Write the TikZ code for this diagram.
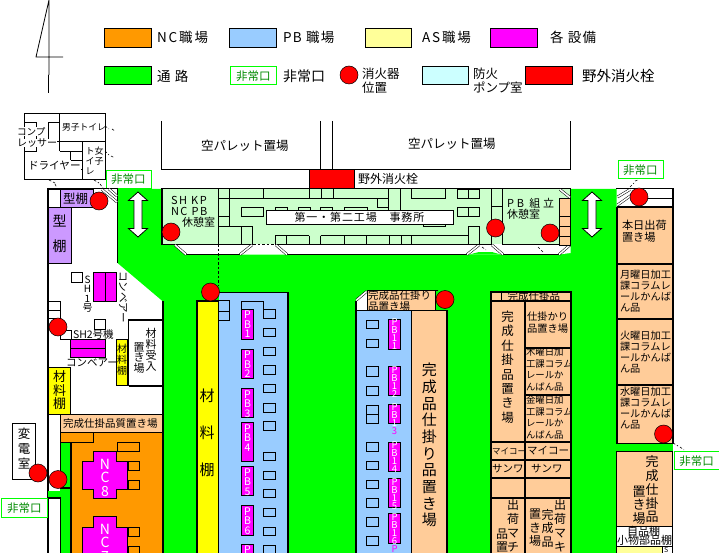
\documentclass[tikz,border=0pt]{standalone}
\usepackage{fontspec}
\setmainfont{Noto Sans CJK JP}
\definecolor{nco}{HTML}{FF9900}
\definecolor{pbb}{HTML}{99CCFF}
\definecolor{asy}{HTML}{FFFF99}
\definecolor{eqm}{HTML}{FF00FF}
\definecolor{grn}{HTML}{00FF00}
\definecolor{cyn}{HTML}{CCFFFF}
\definecolor{red0}{HTML}{FF0000}
\definecolor{pch}{HTML}{FFCC99}
\definecolor{lgr}{HTML}{CCFFCC}
\definecolor{pur}{HTML}{CC99FF}
\definecolor{yel}{HTML}{FFFF00}
\definecolor{egr}{HTML}{008A00}
\newcounter{tn}
\newcommand{\LS}[2]{{\addfontfeatures{LetterSpace=#1}#2}}
% \TX[opts]{x}{y}{size}{text}: west anchored text
\newcommand{\TX}[5][]{\stepcounter{tn}\node[txt,anchor=west,font=\fontsize{#4}{#4}\selectfont,#1] (t\arabic{tn}) at (#2,#3) {#5};}
% \VT[opts]{x}{ytop}{size}{lineheight}{text with \\}: vertical column
\newcommand{\VT}[6][]{\stepcounter{tn}\node[txt,anchor=north,align=center,font=\fontsize{#4}{#5}\selectfont,#1] (t\arabic{tn}) at (#2,#3) {#6};}
\newcommand{\FC}[2]{\stepcounter{tn}\node[ext] (t\arabic{tn}) at (#1,#2) {};}
\newcommand{\EX}[4]{\stepcounter{tn}\node[exitbox,minimum width=#3,minimum height=#4,anchor=north west,font=\fontsize{11.5}{12}\selectfont] (t\arabic{tn}) at (#1,#2) {非常口};}
\tikzset{
 txt/.style={inner sep=0pt,outer sep=0pt},
 ln/.style={draw=black,line width=.8pt},
 wl/.style={draw=black,line width=1.7pt},
 ext/.style={circle,draw=black,line width=.5pt,fill=red0,minimum size=18pt,inner sep=0pt},
 exitbox/.style={draw=grn,line width=.9pt,fill=white,text=egr,inner sep=0pt},
 door/.style={draw=black,line width=.5pt,double=white,double distance=1.6pt},
 dsh/.style={draw=black,line width=.6pt,dash pattern=on 2.5pt off 2pt},
 pbbox/.style={draw=black,line width=1pt,fill=eqm},
 wtext/.style={text=white},
 warrow/.style={draw=black,line width=.8pt,fill=white}
}
\begin{document}
\begin{tikzpicture}[x=1pt,y=-1pt]
\useasboundingbox (0,0) rectangle (719,553);
\clip (0,0) rectangle (719,553);
\fill[white] (0,0) rectangle (719,553);
% north sign
\draw[ln] (49,0)--(49,75) (48.5,75)--(48.5,93) (49,0)--(36,57) (35.5,57)--(63,57);
% legend
\draw[ln,fill=nco] (104.5,28.5) rectangle (151.5,47.5);
\TX{157}{37}{13.5}{\LS{14}{NC職場}}
\draw[ln,fill=pbb] (229.5,28.5) rectangle (276.5,47.5);
\TX{283}{37}{13.5}{\LS{10}{PB 職場}}
\draw[ln,fill=asy] (365.5,28.5) rectangle (411.5,47.5);
\TX{422}{37}{13.5}{\LS{14}{AS職場}}
\draw[ln,fill=eqm] (490.5,28.5) rectangle (537.5,47.5);
\TX{550}{37}{13.5}{\LS{10}{各 設備}}
\draw[ln,fill=grn] (104.5,66.5) rectangle (151.5,84.5);
\TX{157}{76}{13.5}{\LS{10}{通 路}}
\EX{230}{66.5}{46pt}{18pt}
\TX{283}{76}{14}{非常口}
\FC{349}{75}
\VT[align=left,anchor=north west]{362}{68}{12.5}{14}{消火器\\位置}
\draw[ln,fill=cyn] (422.5,66.5) rectangle (468.5,84.5);
\VT[align=left,anchor=north west]{473}{68}{12.5}{14}{防火\\ポンプ室}
\draw[ln,fill=red0] (525.5,66.5) rectangle (572.5,84.5);
\TX{582}{76}{14.5}{野外消火栓}
% toilet block
\draw[ln] (24.5,113.5) rectangle (105.5,179.5);
\draw[ln] (59.5,113.5)--(59.5,151.5) (59.5,141.5)--(105.5,141.5)
 (82.5,141.5)--(82.5,179.5)
 (48.5,122.5) rectangle (59.5,141.5) (24.5,151.5)--(36.5,151.5)--(36.5,122)--(24.5,122)
 (59.5,151.5)--(82.5,151.5) (70.5,151.5)--(70.5,160.5) (70.5,160.5)--(82.5,160.5)
 (53,169.5)--(82.5,169.5);
\TX[fill=white]{17}{131.5}{9.6}{コンプ}
\TX[fill=white]{17}{143}{10}{レッサー}
\TX[fill=white]{28}{166}{10.6}{ドライヤー}
\TX{62}{127.5}{8.8}{男子トイレ}
\VT[align=left,anchor=north west]{85.5}{146.5}{9}{10}{ト女\\イ子\\レ}
\draw[dsh] (105,126)--(109,129) (112,129)--(115,131) (105,151)--(109,155) (111,156)--(115,158)
 (49,180)--(55,183) (55,184)--(57,188) (94,180)--(99,183) (100,184)--(103,188);
% top pallet yards
\draw[ln] (161.5,121)--(161.5,169.5)--(570.5,169.5)--(570.5,121) (320.5,121)--(320.5,169.5) (332.5,121)--(332.5,169.5);
\TX{201}{146}{12.5}{空パレット置場}
\TX{408}{144}{12.5}{空パレット置場}
\draw[ln,fill=red0] (309.5,169.5) rectangle (354,188);
\TX{358}{178.5}{12}{野外消火栓}
\EX{105.5}{170}{45pt}{18pt}
\EX{617.5}{160.5}{45pt}{18pt}
% green aisle
\fill[grn] (118,189)--(616.7,189)--(616.7,553)--(163,553)--(163,301.5)--(117.5,263)--cycle;
\fill[grn] (616,443)rectangle(673,452);
% left wall and top wall
\draw[wl] (47,188.5)--(118,188.5) (161,188.5)--(570.5,188.5) (616,188.5)--(674,188.5);
\draw[wl] (48,188)--(48,553);
\draw[wl] (117.5,188)--(117.5,263) ;
\draw[wl] (163.2,301)--(163.2,553);
% top left rooms
\draw[ln] (48.5,189.5) rectangle (60.5,207);
\draw[ln,fill=pur] (60.5,189.5) rectangle (93,207);
\TX{63}{198.5}{12.5}{型棚}
\draw[ln,fill=pur] (48.5,207) rectangle (71.5,263.5);
\VT{59.5}{215}{14}{25}{型\\棚}
\draw[door] (102,189.5)--(117,202);
\draw[door] (109,189)--(117,196);
% SH1
\draw[ln,fill=eqm] (93.5,272.7) rectangle (116.5,301.7) (105,272.7)--(105,301.7);
\draw[ln] (71.5,272.5) rectangle (82.5,282.5);
\VT{87.5}{276}{10}{9.4}{S\\H\\1\\号}
\stepcounter{tn}\node[txt,rotate=-90,font=\fontsize{10.5}{11}\selectfont] (t\arabic{tn}) at (123,297) {コンベアー};
\draw[ln] (48.5,301.5) rectangle (60.5,310.5) (48.5,310.5) rectangle (60.5,318) (60,330) rectangle (71,339.5);
\draw[ln] (94.5,319.5) rectangle (105.5,329.5);
\TX{73}{334.5}{10.5}{SH2号機}
\draw[ln,fill=eqm] (70.5,339.5) rectangle (105.5,357.5) (70.5,348.5)--(105.5,348.5);
\TX{66}{363}{10.5}{コンベアー}
\draw[ln,fill=yel] (116.5,339.5) rectangle (127.5,385);
\VT{122}{344}{10}{11}{材\\料\\棚}
\draw[wl] (128.5,386)--(128.5,320)--(163,320) (128.5,386)--(163,386);
\VT{151}{328}{11}{11}{材\\料\\受\\入}
\VT{139}{342.5}{11}{10.7}{置\\き\\場}
\draw[ln,fill=yel] (48.5,367) rectangle (70.5,414.5);
\VT{59.5}{371}{13}{13.5}{材\\料\\棚}
% NC area
\fill[nco] (71,432) rectangle (163,553);
\fill[pch] (60,415) rectangle (163,432);
\fill[nco] (60,432) rectangle (93,442.5);
\fill[grn] (60,442.5) rectangle (71,553);
\fill[grn] (48,490.5) rectangle (60,498);
\draw[ln] (48,414.5)--(163,414.5) (60,414.5)--(60,488) (60,432)--(163,432) (60,442.5)--(93,442.5) (93,432)--(93,442.5);
\draw[wl] (71,442.5)--(71,553) (60,488)--(71,488) (48,498)--(60.5,498)--(60.5,553) ;
\draw[wl] (163.2,414)--(163.2,553);
\TX{63}{424}{10.5}{完成仕掛品質置き場}
\draw[ln] (117.5,442.5) rectangle (139.5,451.5) (128,461) rectangle (139.5,470.5) (128,480) rectangle (139.5,489.5)
 (128,527) rectangle (139.5,536) (128,546) rectangle (139.5,556);
\draw[ln,fill=eqm] (93.7,451.7)--(116.3,451.7)--(116.3,461.3)--(127.7,461.3)--(127.7,489.3)--(116.3,489.3)--(116.3,498.3)--(93.7,498.3)--(93.7,489.3)--(82.3,489.3)--(82.3,461.3)--(93.7,461.3)--cycle;
\draw[ln,fill=eqm] (93.7,516)--(116.3,516)--(116.3,527.3)--(127.7,527.3)--(127.7,560)--(82.3,560)--(82.3,527.3)--(93.7,527.3)--cycle;
\VT[text=white]{105}{459}{14}{13.5}{N\\C\\8}
\VT[text=white]{105}{524}{14}{13.5}{N\\C\\7}
\draw[ln,fill=white] (12.5,423.5) rectangle (35.5,479.5);
\VT{24}{428}{12.5}{15}{変\\電\\室}
\EX{0.7}{498}{46.3pt}{18.5pt}
% office
\fill[lgr] (162,189.5) rectangle (570.5,244.5);
\fill[white] (174,244)--(186,254.5)--(503,254.5)--(559,254.5)--(570.5,253)--(570.5,244)--cycle;
\fill[grn] (469,254.6)--(479,252)--(492,252)--(501,254.6)--cycle;
\draw[wl] (162,189)--(162,244.5)--(174,244.5);
\draw[ln] (174,244.5)--(253,244.5) (276,244.5)--(492,244.5) (503,244.5)--(570.5,244.5);
\draw[dsh] (253,244.5)--(276,244.5);
\draw[wl] (186,254.5)--(240,254.5) (287,254.5)--(467,254.5) (503,254.5)--(559,254.5);
\draw[wl] (570.5,188.5)--(570.5,245);
\draw[door] (175,245)--(186,254.5);
\draw[door] (240,254.5)--(252,245);
\draw[door] (276,245)--(287,254.5);
\draw[door] (467,254.5)--(479,245);
\draw[door] (492,245)--(503,254.5);
\draw[door] (559,254.5)--(570,245);
\draw[dsh] (218.3,244)--(218.3,285);
\draw[dsh] (482,247)--(486,250) (538,247)--(543,252);
\draw[ln] (218.3,189)--(218.3,244) (229,189)--(229,226) (218.3,198.5)--(387,198.5) (218.3,216)--(229,216) (218.3,226)--(252.7,226)
 (241.7,226)--(241.7,244) (252.7,226)--(252.7,244)
 (241.7,207.3) rectangle (263.3,216.3)
 (263,189)--(263,198.5) (309,189)--(309,198.5) (321,189)--(321,198.5) (333,189)--(333,198.5)
 (275,207.3) rectangle (287,214) (298.3,207.3) rectangle (310,214) (320.7,207.3) rectangle (332.7,214) (344,207.3) rectangle (367,214)
 (377,198.5) rectangle (388.3,207.3) (388.3,189)--(388.3,212) (400,189)--(400,212)
 (411.7,189)--(411.7,198.7)--(445.7,198.7)--(445.7,189)
 (457.3,189) rectangle (479.3,198.7) (468.3,189)--(468.3,198.7)
 (457.3,207.3) rectangle (479.3,216) (468.3,207.3)--(468.3,216)
 (468.3,226.7) rectangle (479.3,244.5)
 (423,220) rectangle (445,226)
 (275,235.7)--(309.3,235.7) (320.7,235.7)--(468.3,235.7)
 (275,235.7)--(275,244.5) (286.7,235.7)--(286.7,244.5) (309.3,235.7)--(309.3,244.5) (320.7,235.7)--(320.7,244.5)
 (344.7,235.7)--(344.7,244.5) (366.7,235.7)--(366.7,244.5) (389.3,235.7)--(389.3,244.5) (401,235.7)--(401,244.5) (411.7,235.7)--(411.7,244.5)
 (491.7,189)--(491.7,244.5) (502.7,189)--(502.7,244.5) (491.7,206.7)--(502.7,206.7);
\stepcounter{tn}\node[draw=black,line width=.8pt,fill=white,anchor=north west,minimum width=187pt,minimum height=13pt,inner sep=0pt,font=\fontsize{11}{11}\selectfont] (t\arabic{tn}) at (265.5,210.5) {\LS{8}{第一・第二工場　事務所}};
\TX{171}{200}{11}{\LS{14}{SH KP}}
\TX{171}{211}{11}{\LS{14}{NC PB}}
\TX{182}{222}{11}{休憩室}
\TX{507}{203}{11}{\LS{26}{PB 組立}}
\TX{507}{214}{11}{休憩室}
\draw[ln,fill=pch] (559.3,198) rectangle (570.5,245);
\draw[ln] (559.3,216.7)--(570.5,216.7) (559.3,226.7)--(570.5,226.7) (559.3,236)--(570.5,236);
\draw[door] (560,189.5)--(570,197.5);
% double arrows
\draw[warrow] (138,192)--(147.5,200.5)--(142,200.5)--(142,228.5)--(147.5,228.5)--(138,237)--(128.5,228.5)--(134,228.5)--(134,200.5)--(128.5,200.5)--cycle;
\draw[warrow] (592,192)--(601.5,200.5)--(596,200.5)--(596,228.5)--(601.5,228.5)--(592,237)--(582.5,228.5)--(588,228.5)--(588,200.5)--(582.5,200.5)--cycle;
% PB left
\fill[yel] (197,301) rectangle (218.5,553);
\fill[pbb] (218.5,292.5) rectangle (288.3,553);
\draw[wl] (197,553)--(197,301)--(218.5,301) (218.5,292.5)--(288.3,292.5)--(288.3,553);
\draw[ln] (218.5,301)--(218.5,553);
\VT{207}{389}{15}{37}{材\\料\\棚}
\draw[ln] (218.5,300.5) rectangle (229.5,311) (218.5,311) rectangle (229.5,320.5) (241.7,309.3)--(241.7,301.5)--(263.3,301.5)--(263.3,309.3);
\foreach \a/\b in {88/115,145/170,201/227,256/283,313/338,370/396,424/452,517/542,574/599,628/653,685/710,742/767,797/825}{
 \draw[ln] (263.3,{280+\a/3}) rectangle (275.7,{280+\b/3});
}
\foreach \a/\b/\n in {309.3/339.3/1,349.3/378.7/2,388.3/417.7/3,422.3/461.7/4,466.3/495.7/5,505.3/535.7/6,544/560/7}{
 \draw[pbbox] (241.7,\a) rectangle (253.3,\b);
 \VT[text=white]{247.5}{\a+2}{10.5}{9.5}{P\\B\\\n}
}
% PB middle
\fill[pbb] (356,310) rectangle (411.7,553);
\fill[pch] (411.7,310) rectangle (446.7,553);
\fill[white] (356,300)--(367,291)--(367,310)--(356,310)--cycle;
\fill[pch] (367,291) rectangle (435.3,310);
\draw[wl] (356,301)--(356,553) (367,290.5)--(438,290.5) (446.7,310)--(446.7,553);
\draw[ln] (356,310)--(446.7,310) (411.7,310)--(411.7,553) (367,290.5)--(367,310) (435.3,290.5)--(435.3,310);
\draw[door] (356.5,300)--(366.5,291.5);
\VT[align=left,anchor=north west]{368}{291}{10.5}{9.5}{完成品仕掛り\\品置き場}
\VT{429.3}{363}{15}{16.7}{完\\成\\品\\仕\\掛\\り\\品\\置\\き\\場}
\foreach \a/\b in {105/131,162/188,245/275,303/330,361/388,388/415,472/499,528/554,585/611,640/667,697/723,753/780}{
 \draw[ln] (366,{285+\a/3}) rectangle (378.7,{285+\b/3});
}
\foreach \a/\b/\n/\c in {102/194/1/white,244/332/2/white,357/415/3/eqm,471/560/4/white,580/668/5/white,685/775/6/white}{
 \draw[pbbox] (388.3,{285+\a/3}) rectangle (400.7,{285+\b/3});
 \VT[text=white]{394.5}{285+\a/3}{9.5}{8}{P\\B\\1\\\textcolor{\c}{\n}}
}
\TX[anchor=center,text=eqm]{394.5}{549}{9.5}{P}
% right middle block
\fill[pch] (491,291.7) rectangle (571,553);
\draw[wl] (491,553)--(491,291.7)--(571,291.7)--(571,553) (491,301)--(571,301) (525,301)--(525,553)
 (525,347.7)--(571,347.7) (525,395)--(571,395) (491,441.7)--(571,441.7) (491,460)--(571,460) (491,478.3)--(571,478.3) (491,498.3)--(571,498.3);
\draw[ln] (501.7,292)--(501.7,301);
\TX{507.7}{296.7}{10.5}{完成仕掛品}
\VT{507.7}{311}{12.5}{14.4}{完\\成\\仕\\掛\\品\\置\\き\\場}
\VT[align=left,anchor=north west]{527}{312}{10.3}{12}{仕掛かり\\品置き場}
\VT[align=left,anchor=north west]{526}{348}{9.4}{11.4}{木曜日加\\工課コラム\\レールか\\んばん品}
\VT[align=left,anchor=north west]{526}{396}{9.4}{11.4}{金曜日加\\工課コラム\\レールか\\んばん品}
\TX{492}{451}{8.5}{マイコー}
\TX{527}{451}{10.5}{マイコー}
\TX{492}{469}{10.5}{サンワ}
\TX{531}{469}{10.5}{サンワ}
\VT{513}{499}{12}{14}{出\\荷\\マ\\チ}
\VT{502}{529}{12}{13}{品\\置}
\VT{535}{509}{12}{13.5}{置\\き\\場}
\VT{547.5}{509}{12}{13.5}{完\\成\\品}
\VT{560}{499}{12}{14}{出\\荷\\マ\\キ}
% right column
\fill[pch] (616.7,206.7) rectangle (672.7,443);
\draw[wl] (616.7,206.7)--(616.7,443.5)--(672.7,443.5) (616.7,206.7)--(672.7,206.7) (672.7,188.5)--(672.7,443.5)
 (616.7,264)--(672.7,264) (616.7,319.3)--(672.7,319.3) (616.7,385)--(672.7,385);
\draw[ln] (645,198)--(672.7,198);
\draw[door] (617.5,197)--(630,189.5);
\draw[door] (617.5,205)--(633,194);
\draw[dsh] (630,187)--(634,183) (635,181)--(638,180) (673,443)--(678,446) (680,447)--(684,450);
\VT[align=left,anchor=north west]{622}{220.5}{11.2}{11.6}{本日出荷\\置き場}
\VT[align=left,anchor=north west]{620}{270}{10.2}{11}{月曜日加工\\課コラムレ\\ールかんば\\ん品}
\VT[align=left,anchor=north west]{620}{331.5}{10.2}{11}{火曜日加工\\課コラムレ\\ールかんば\\ん品}
\VT[align=left,anchor=north west]{620}{386.5}{10.2}{11}{水曜日加工\\課コラムレ\\ールかんば\\ん品}
\draw[ln,fill=pch] (616.7,451.7) rectangle (672.7,526);
\VT{652}{456}{13}{13.7}{完\\成\\仕\\掛\\品}
\VT{639}{486}{13}{13.5}{置\\き\\場}
\draw[ln,fill=white] (616.7,526) rectangle (672.7,546);
\TX{627}{531}{11}{自品棚}
\TX{617}{540}{11}{小物部品棚}
\draw[ln,fill=asy] (616.7,546) rectangle (662,556);
\draw[ln,fill=white] (662,546) rectangle (672.7,556);
\TX{664}{550}{7}{S}
\EX{673.7}{451.3}{45pt}{18pt}
% extinguishers
\foreach \x/\y in {99/201,171/232,495.5/228,550/233,639/197,210.5/292,445/299.5,58/327,663.5/434,38/473,58/479.5}{
 \FC{\x}{\y}
}
\end{tikzpicture}
\end{document}
